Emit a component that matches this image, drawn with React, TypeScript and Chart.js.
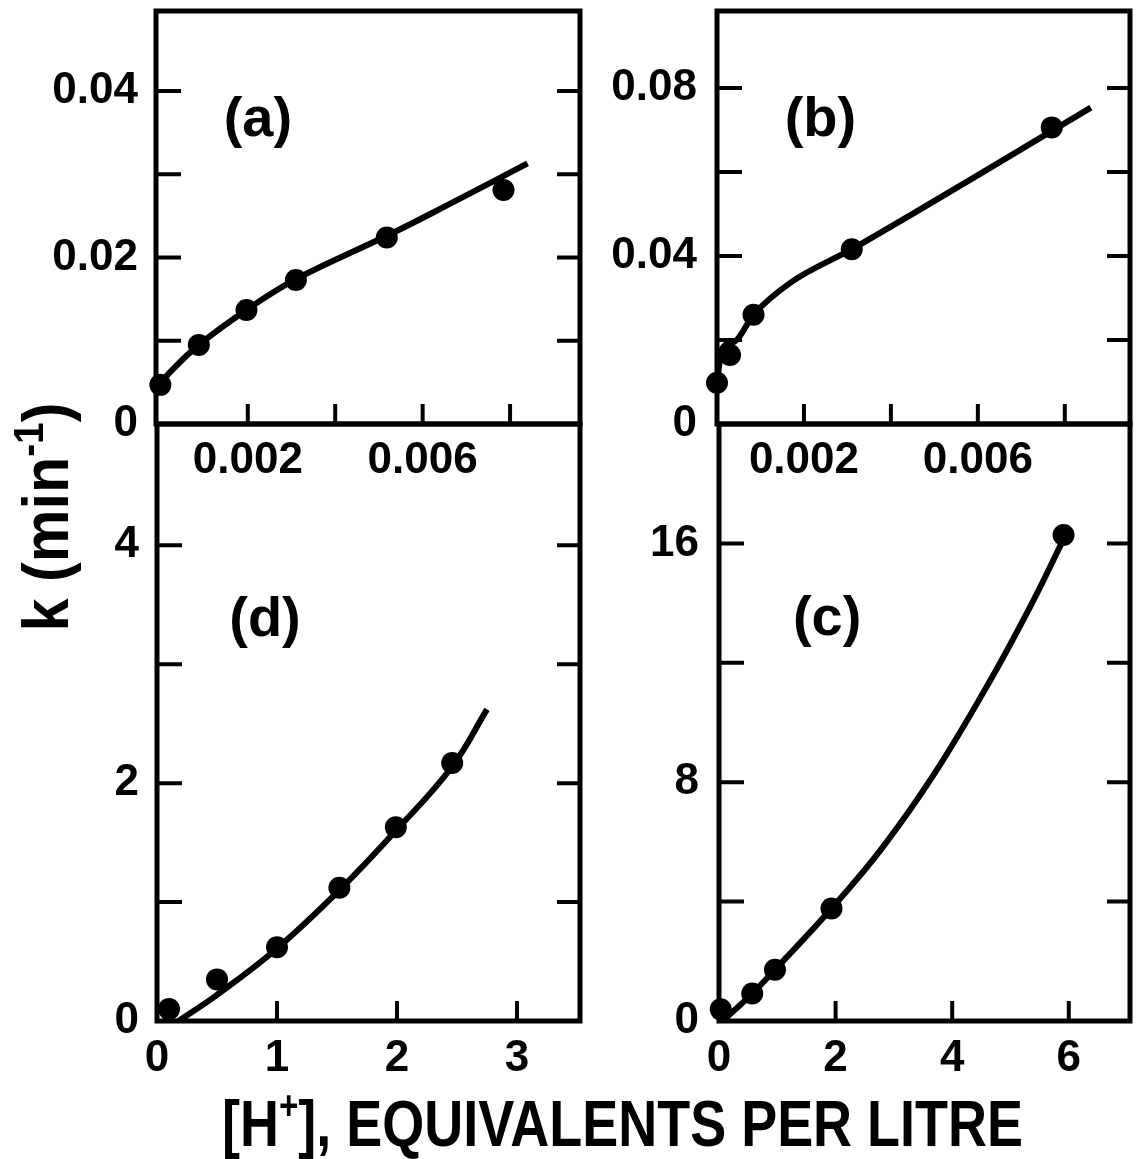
import React, { useEffect, useRef } from 'react';
import { Chart, registerables } from 'chart.js';

Chart.register(...registerables);

const FONT = "'Liberation Sans', Arial, Helvetica, sans-serif";
const CANVAS_W = 1141;
const CANVAS_H = 1159;
const Y_AXIS_W = 110;
const X_AXIS_H = 80;

// ---------- Panel (a) ----------
const A_PTS_X = [0.0, 0.00088, 0.00197, 0.0031, 0.00518, 0.00785];
const A_PTS_Y = [0.0047, 0.0095, 0.0137, 0.0173, 0.0224, 0.0281];
const A_FIT_X = [0.0, 0.0002, 0.00088, 0.00197, 0.0031, 0.00518, 0.0065, 0.0084];
const A_FIT_Y = [0.0048, 0.0061, 0.0095, 0.0137, 0.0174, 0.0226, 0.0261, 0.0313];
const A_X_TICKS = [0.002, 0.004, 0.006, 0.008];
const A_X_LABELS = ['0.002', '', '0.006', ''];
const A_Y_TICKS = [0, 0.01, 0.02, 0.03, 0.04];
const A_Y_LABELS = ['0', '', '0.02', '', '0.04'];

// ---------- Panel (b) ----------
const B_PTS_X = [0.0, 0.0003, 0.00084, 0.0031, 0.0077];
const B_PTS_Y = [0.0098, 0.0164, 0.026, 0.0416, 0.0706];
const B_FIT_X = [0.0, 0.00012, 0.0004, 0.00084, 0.0017, 0.0031, 0.0058, 0.0086];
const B_FIT_Y = [0.01, 0.018, 0.0196, 0.026, 0.0337, 0.0416, 0.058, 0.0753];
const B_X_TICKS = [0.002, 0.004, 0.006, 0.008];
const B_X_LABELS = ['0.002', '', '0.006', ''];
const B_Y_TICKS = [0, 0.02, 0.04, 0.06, 0.08];
const B_Y_LABELS = ['0', '', '0.04', '', '0.08'];

// ---------- Panel (d) ----------
const D_PTS_X = [0.1, 0.5, 1.0, 1.52, 1.99, 2.46];
const D_PTS_Y = [0.1, 0.35, 0.62, 1.12, 1.63, 2.17];
const D_FIT_X = [0.18, 0.5, 1.0, 1.52, 1.99, 2.46, 2.75];
const D_FIT_Y = [0.0, 0.22, 0.61, 1.1, 1.6, 2.14, 2.62];
const D_X_TICKS = [0, 1, 2, 3];
const D_X_LABELS = ['0', '1', '2', '3'];
const D_Y_TICKS = [0, 1, 2, 3, 4];
const D_Y_LABELS = ['0', '', '2', '', '4'];

// ---------- Panel (c) ----------
const C_PTS_X = [0.03, 0.57, 0.96, 1.93, 5.91];
const C_PTS_Y = [0.39, 0.92, 1.72, 3.77, 16.28];
const C_FIT_X = [0.06, 0.57, 0.96, 1.93, 2.8, 3.7, 4.65, 5.37, 5.9];
const C_FIT_Y = [0.0, 0.92, 1.72, 3.77, 5.8, 8.3, 11.4, 14.0, 16.1];
const C_X_TICKS = [0, 2, 4, 6];
const C_X_LABELS = ['0', '2', '4', '6'];
const C_Y_TICKS = [0, 4, 8, 12, 16];
const C_Y_LABELS = ['0', '', '8', '', '16'];

// ---------- Shared titles ----------
const Y_TITLE_MAIN = 'k (min';
const Y_TITLE_SUP = '-1';
const Y_TITLE_END = ')';
const X_TITLE_MAIN = '[H';
const X_TITLE_SUP = '+';
const X_TITLE_END = '], EQUIVALENTS PER LITRE';

const PANELS = [
  {
    id: 'a', label: '(a)', ptsX: A_PTS_X, ptsY: A_PTS_Y, fitX: A_FIT_X, fitY: A_FIT_Y,
    xTicks: A_X_TICKS, xLabels: A_X_LABELS, yTicks: A_Y_TICKS, yLabels: A_Y_LABELS,
    xMin: -0.0001, xMax: 0.0096, yMin: 0, yMax: 0.0496,
    area: { left: 156, top: 10, right: 580, bottom: 424 },
    labelAt: [0.00223, 0.0346], yPad: 18, xPad: 10, smooth: 'tension',
  },
  {
    id: 'b', label: '(b)', ptsX: B_PTS_X, ptsY: B_PTS_Y, fitX: B_FIT_X, fitY: B_FIT_Y,
    xTicks: B_X_TICKS, xLabels: B_X_LABELS, yTicks: B_Y_TICKS, yLabels: B_Y_LABELS,
    xMin: 0, xMax: 0.0095, yMin: 0, yMax: 0.0983,
    area: { left: 717, top: 10, right: 1137, bottom: 424 },
    labelAt: [0.00238, 0.0686], yPad: 20, xPad: 10, smooth: 'monotone',
  },
  {
    id: 'd', label: '(d)', ptsX: D_PTS_X, ptsY: D_PTS_Y, fitX: D_FIT_X, fitY: D_FIT_Y,
    xTicks: D_X_TICKS, xLabels: D_X_LABELS, yTicks: D_Y_TICKS, yLabels: D_Y_LABELS,
    xMin: 0, xMax: 3.525, yMin: 0, yMax: 5.02,
    area: { left: 157, top: 424, right: 580, bottom: 1021 },
    labelAt: [0.9, 3.24], yPad: 18, xPad: 11, smooth: 'tension',
  },
  {
    id: 'c', label: '(c)', ptsX: C_PTS_X, ptsY: C_PTS_Y, fitX: C_FIT_X, fitY: C_FIT_Y,
    xTicks: C_X_TICKS, xLabels: C_X_LABELS, yTicks: C_Y_TICKS, yLabels: C_Y_LABELS,
    xMin: 0, xMax: 7.05, yMin: 0, yMax: 20,
    area: { left: 719, top: 424, right: 1137, bottom: 1021 },
    labelAt: [1.855, 12.92], yPad: 20, xPad: 11, smooth: 'tension',
  },
];

const framePlugin = {
  id: 'frame',
  afterDatasetsDraw(chart: any) {
    const { ctx, chartArea: a, scales } = chart;
    const x = scales.x;
    const y = scales.y;
    ctx.save();
    ctx.strokeStyle = '#000';
    ctx.lineCap = 'butt';
    ctx.lineWidth = 4;
    y.ticks.forEach((t: any) => {
      if (t.value <= y.min) return;
      const p = y.getPixelForValue(t.value);
      ctx.beginPath();
      ctx.moveTo(a.left, p);
      ctx.lineTo(a.left + 25, p);
      ctx.moveTo(a.right, p);
      ctx.lineTo(a.right - 23, p);
      ctx.stroke();
    });
    x.ticks.forEach((t: any) => {
      if (t.value <= x.min) return;
      const p = x.getPixelForValue(t.value);
      ctx.beginPath();
      ctx.moveTo(p, a.bottom);
      ctx.lineTo(p, a.bottom - 20);
      ctx.stroke();
    });
    ctx.lineWidth = 5;
    ctx.strokeRect(a.left, a.top, a.right - a.left, a.bottom - a.top);
    ctx.restore();
  },
};

const panelLabelPlugin = {
  id: 'panelLabel',
  afterDatasetsDraw(chart: any, _args: any, o: any) {
    if (!o || !o.text) return;
    const { ctx, scales } = chart;
    ctx.save();
    ctx.font = `bold ${o.size}px ${FONT}`;
    ctx.fillStyle = '#000';
    ctx.textAlign = 'center';
    ctx.textBaseline = 'alphabetic';
    ctx.fillText(o.text, scales.x.getPixelForValue(o.x), scales.y.getPixelForValue(o.y));
    ctx.restore();
  },
};

const sharedTitlesPlugin = {
  id: 'sharedTitles',
  afterDraw(chart: any, _args: any, o: any) {
    if (!o || !o.enabled) return;
    const ctx = chart.ctx;
    const big = `bold ${o.ySize}px ${FONT}`;
    const small = `bold ${o.ySupSize}px ${FONT}`;

    // vertical title
    ctx.save();
    ctx.fillStyle = '#000';
    ctx.textAlign = 'left';
    ctx.textBaseline = 'alphabetic';
    ctx.font = big;
    const w1 = ctx.measureText(Y_TITLE_MAIN).width;
    const w3 = ctx.measureText(Y_TITLE_END).width;
    ctx.font = small;
    const w2 = ctx.measureText(Y_TITLE_SUP).width;
    const totY = w1 + w2 + w3;
    const sy = o.yLen / totY;
    ctx.translate(o.yBaseX, o.yCenterY);
    ctx.rotate(-Math.PI / 2);
    ctx.scale(sy, 1);
    const x0 = -totY / 2;
    ctx.font = big;
    ctx.fillText(Y_TITLE_MAIN, x0, 0);
    ctx.font = small;
    ctx.fillText(Y_TITLE_SUP, x0 + w1, -o.ySupRaise);
    ctx.font = big;
    ctx.fillText(Y_TITLE_END, x0 + w1 + w2, 0);
    ctx.restore();

    // horizontal title
    const bigX = `bold ${o.xSize}px ${FONT}`;
    const smallX = `bold ${o.xSupSize}px ${FONT}`;
    ctx.save();
    ctx.fillStyle = '#000';
    ctx.textAlign = 'left';
    ctx.textBaseline = 'alphabetic';
    ctx.font = bigX;
    const v1 = ctx.measureText(X_TITLE_MAIN).width;
    const v3 = ctx.measureText(X_TITLE_END).width;
    ctx.font = smallX;
    const v2 = ctx.measureText(X_TITLE_SUP).width;
    const totX = v1 + v2 + v3;
    const sx = o.xLen / totX;
    ctx.translate(o.xStart, o.xBaseY);
    ctx.scale(sx, 1);
    ctx.font = bigX;
    ctx.fillText(X_TITLE_MAIN, 0, 0);
    ctx.font = smallX;
    ctx.fillText(X_TITLE_SUP, v1, -o.xSupRaise);
    ctx.font = bigX;
    ctx.fillText(X_TITLE_END, v1 + v2, 0);
    ctx.restore();
  },
};

function makeAxis(isX: boolean, min: number, max: number, ticks: number[], labels: string[], pad: number) {
  return {
    type: 'linear',
    position: isX ? 'bottom' : 'left',
    min,
    max,
    grid: { display: false, drawTicks: false },
    border: { display: false },
    afterBuildTicks: (s: any) => {
      s.ticks = ticks.map((v) => ({ value: v }));
    },
    afterFit: (s: any) => {
      if (isX) s.height = X_AXIS_H;
      else s.width = Y_AXIS_W;
      s.paddingTop = 0;
      s.paddingBottom = 0;
      s.paddingLeft = 0;
      s.paddingRight = 0;
    },
    ticks: {
      callback: (_v: any, i: number) => labels[i],
      padding: pad,
      autoSkip: false,
      maxRotation: 0,
      minRotation: 0,
      includeBounds: false,
      color: '#000',
      font: { family: FONT, size: 44, weight: 'bold' },
    },
  };
}

function buildConfig(p: any, withTitles: boolean): any {
  const a = p.area;
  const padding = {
    left: a.left - Y_AXIS_W,
    top: a.top,
    right: CANVAS_W - a.right,
    bottom: CANVAS_H - a.bottom - X_AXIS_H,
  };
  const curveStyle =
    p.smooth === 'monotone'
      ? { cubicInterpolationMode: 'monotone' }
      : { cubicInterpolationMode: 'default', tension: 0.4 };
  return {
    type: 'scatter',
    data: {
      datasets: [
        {
          data: p.ptsX.map((x: number, i: number) => ({ x, y: p.ptsY[i] })),
          showLine: false,
          pointRadius: 11,
          pointHoverRadius: 11,
          pointBackgroundColor: '#000',
          pointBorderColor: '#000',
          pointBorderWidth: 0,
          clip: false,
          order: 0,
        },
        {
          data: p.fitX.map((x: number, i: number) => ({ x, y: p.fitY[i] })),
          showLine: true,
          pointRadius: 0,
          pointHoverRadius: 0,
          borderColor: '#000',
          borderWidth: 6,
          borderCapStyle: 'butt',
          borderJoinStyle: 'round',
          fill: false,
          order: 1,
          ...curveStyle,
        },
      ],
    },
    options: {
      responsive: false,
      maintainAspectRatio: false,
      animation: false,
      events: [],
      layout: { padding },
      plugins: {
        legend: { display: false },
        title: { display: false },
        tooltip: { enabled: false },
        panelLabel: { text: p.label, x: p.labelAt[0], y: p.labelAt[1], size: 56 },
        sharedTitles: {
          enabled: withTitles,
          ySize: 64, ySupSize: 42, ySupRaise: 25, yLen: 229, yBaseX: 68, yCenterY: 517,
          xSize: 65, xSupSize: 40, xSupRaise: 27, xLen: 801, xStart: 222, xBaseY: 1146,
        },
      },
      scales: {
        x: makeAxis(true, p.xMin, p.xMax, p.xTicks, p.xLabels, p.xPad),
        y: makeAxis(false, p.yMin, p.yMax, p.yTicks, p.yLabels, p.yPad),
      },
    },
    plugins: [framePlugin, panelLabelPlugin, sharedTitlesPlugin],
  };
}

export default function App() {
  const canvasRefs = useRef<(HTMLCanvasElement | null)[]>([]);

  useEffect(() => {
    const charts = PANELS.map(
      (p, i) => new Chart(canvasRefs.current[i] as HTMLCanvasElement, buildConfig(p, i === PANELS.length - 1))
    );
    return () => charts.forEach((c) => c.destroy());
  }, []);

  return (
    <div
      style={{
        position: 'absolute',
        left: 0,
        top: 0,
        width: CANVAS_W,
        height: CANVAS_H,
        background: '#fff',
      }}
    >
      {PANELS.map((p, i) => (
        <canvas
          key={p.id}
          ref={(el) => {
            canvasRefs.current[i] = el;
          }}
          width={CANVAS_W}
          height={CANVAS_H}
          style={{ position: 'absolute', left: 0, top: 0, width: CANVAS_W, height: CANVAS_H }}
        />
      ))}
    </div>
  );
}
